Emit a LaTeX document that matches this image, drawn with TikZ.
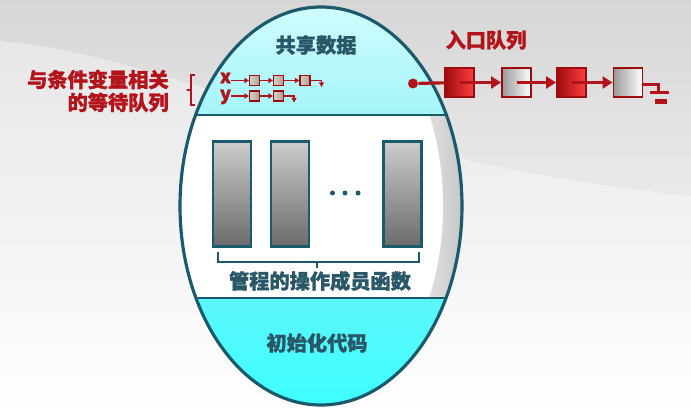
\documentclass[tikz,border=0pt]{standalone}
\usepackage{fontspec}
\newfontfamily\cjk{Noto Sans CJK SC}[BoldFeatures={FakeBold=1.3}]
\usetikzlibrary{arrows.meta,positioning,calc}
\definecolor{MT}{HTML}{1B5A6C}
\definecolor{MX}{HTML}{2A5767}
\definecolor{MR}{HTML}{B3141B}
\definecolor{MD}{HTML}{9E0B0F}
\definecolor{CA}{HTML}{D2FDFF}
\definecolor{CB}{HTML}{A4F5F9}
\definecolor{CC}{HTML}{5CF6FA}
\definecolor{CD}{HTML}{3CFFFF}

\tikzset{
  title/.style={font=\cjk\fontsize{11.5}{14}\selectfont\bfseries, color=MX, inner sep=0pt},
  redtext/.style={font=\cjk\fontsize{11.5}{13}\selectfont\bfseries, color=MR, inner sep=0pt},
  qlab/.style={font=\cjk\fontsize{10.5}{11}\selectfont\bfseries, color=MR, inner sep=0pt,
               text height=1.1ex, text depth=0pt},
  proc/.style={draw=MT, line width=1.7pt, top color=black!20, bottom color=black!58,
               minimum width=0.76cm, minimum height=2.10cm, inner sep=0pt},
  sbox/.style={draw=MD, line width=0.6pt, left color={rgb,255:red,216;green,208;blue,196},
               right color={rgb,255:red,172;green,160;blue,146},
               minimum size=0.2cm, inner sep=0pt},
  slink/.style={MR, line width=1.1pt, -{Triangle[length=0.09cm, width=0.1cm]}},
  qred/.style={draw=MD, line width=1.1pt, left color=MD, right color=red!75,
               minimum size=0.58cm, inner sep=0pt},
  qgray/.style={draw=MD, line width=1.1pt, left color=black!40, right color=white,
               minimum size=0.58cm, inner sep=0pt},
  qline/.style={MR, line width=1.8pt}
}

\begin{document}
\begin{tikzpicture}

    %% background
    \useasboundingbox (0,0) rectangle (13.82,8.22);
    \shade[top color=black!16, bottom color=white] (0,0) rectangle (13.82,8.22);
    \fill[white, opacity=0.35]
      (0,7.40) .. controls (3.0,7.20) and (7.0,5.00) .. (13.82,4.30)
      -- (13.82,0) -- (0,0) -- cycle;

    %% monitor body
    \begin{scope}
      \clip (6.42,4.10) ellipse (2.82 and 3.98);
      \shade[top color=CA, bottom color=CB] (3.4,5.92) rectangle (9.4,8.2);
      \shade[top color=CC, bottom color=CD] (3.4,0) rectangle (9.4,2.26);
      \begin{scope}
        \clip (3.4,2.26) rectangle (9.4,5.92);
        \fill[white] (3.4,2.26) rectangle (9.4,5.92);
        \shade[left color=black!10, right color=black!24] (8.4,2.26) rectangle (9.4,5.92);
        \fill[white] (6.36,4.10) ellipse (2.50 and 3.98);
      \end{scope}
      \draw[MT, line width=1.7pt] (3.4,5.92) -- (9.4,5.92);
      \draw[MT, line width=1.7pt] (3.4,2.26) -- (9.4,2.26);
    \end{scope}
    \draw[MT, line width=1.8pt] (6.42,4.10) ellipse (2.82 and 3.98);

    %% labels
    \node[title] (shared) at (6.32,7.32) {共享数据};
    \node[title] (ops) at (6.40,2.60) {管程的操作成员函数};
    \node[title] (init) at (6.34,1.36) {初始化代码};
    \node[redtext, anchor=east, align=right] (condq) at (3.38,6.40)
      {与条件变量相关\\的等待队列};
    \node[redtext] (entryq) at (9.72,7.42) {入口队列};

    %% operations
    \foreach \nm/\xx in {p1/4.64, p2/5.80, p3/8.05}{
      \node[proc] (\nm) at (\xx,4.34) {};
    }
    \foreach \xx in {6.65,6.90,7.16}{
      \fill[MT] (\xx,4.36) circle (0.05);
    }
    \draw[MT, line width=1.7pt] (4.36,3.18) |- (8.38,2.98) -- (8.38,3.18);
    \draw[MT, line width=1.7pt] (6.34,2.98) -- (6.34,2.86);

    %% condition queues
    \draw[MR, line width=1.2pt] (3.90,6.72) -| (3.82,6.42) -- (3.73,6.42)
      -- (3.82,6.42) |- (3.90,6.12);
    \node[qlab] (xlab) at (4.51,6.64) {x};
    \node[qlab] (ylab) at (4.51,6.30) {y};
    \foreach \ii/\xx in {1/5.09, 2/5.57, 3/6.10}{
      \node[sbox] (sx\ii) at (\xx,6.61) {};
    }
    \foreach \ii/\xx in {1/5.09, 2/5.57}{
      \node[sbox] (sy\ii) at (\xx,6.30) {};
    }
    \draw[slink] (xlab.east |- sx1) -- (sx1.west);
    \draw[slink] (sx1) -- (sx2);
    \draw[slink] (sx2) -- (sx3);
    \draw[slink] (sx3.east) -- ++(0.22,0) -- ++(0,-0.13);
    \draw[slink] (ylab.east |- sy1) -- (sy1.west);
    \draw[slink] (sy1) -- (sy2);
    \draw[slink] (sy2.east) -- ++(0.2,0) -- ++(0,-0.13);

    %% entry queue
    \node[circle, fill=MR, inner sep=0pt, minimum size=0.2cm] (head) at (8.26,6.55) {};
    \foreach \ii/\xx/\st in {1/9.19/qred, 2/10.33/qgray, 3/11.43/qred, 4/12.56/qgray}{
      \node[\st] (q\ii) at (\xx,6.57) {};
    }
    \draw[qline] (head) -- (q1);
    \foreach \aa/\bb in {1/2, 2/3, 3/4}{
      \draw[qline, -{Triangle[length=0.2cm, width=0.24cm]}] (q\aa.center) -- (q\bb.west);
    }
    \draw[qline] ($(q4.east)+(0,-0.04)$) -- ++(0.30,0) -- ++(0,-0.16) coordinate (gb);
    \draw[qline] ($(gb)+(-0.16,0)$) -- ++(0.38,0);
    \draw[MR, line width=2.4pt] ($(gb)+(-0.06,-0.18)$) -- ++(0.24,0);

  \end{tikzpicture}
\end{document}
